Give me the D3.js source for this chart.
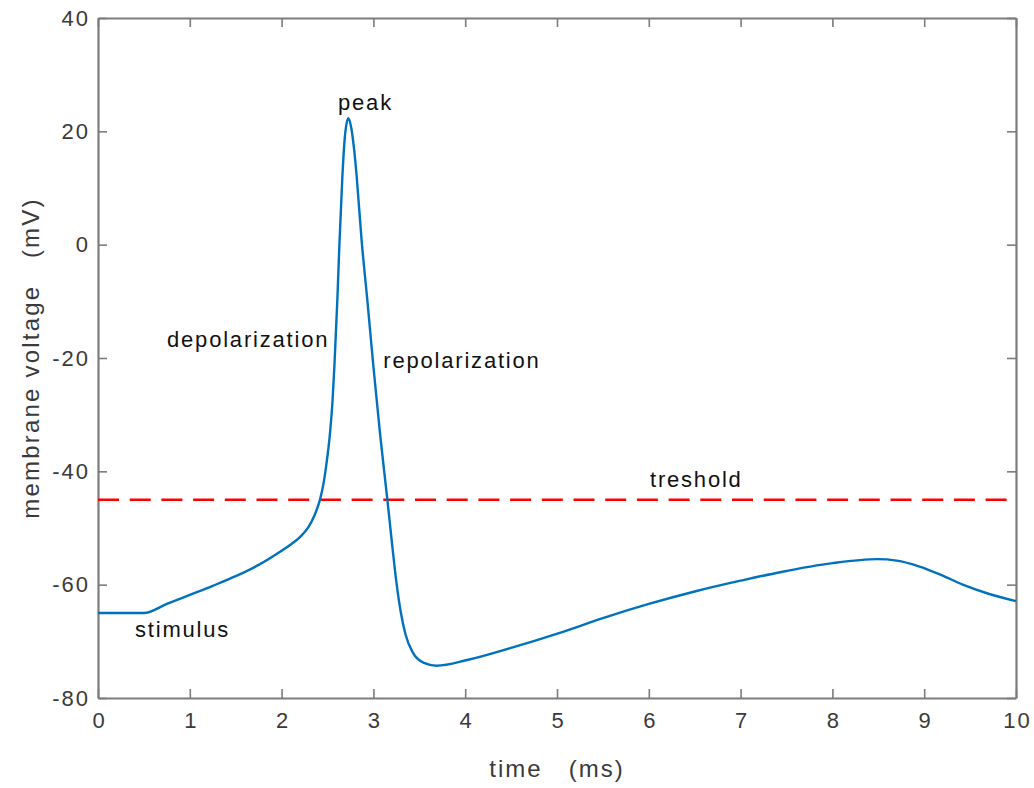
<!DOCTYPE html>
<html>
<head>
<meta charset="utf-8">
<script src="https://cdn.jsdelivr.net/npm/d3@7"></script>
<style>
  body { margin: 0; background: #fff; }
  text { font-family: "Liberation Sans", Arial, sans-serif; }
</style>
</head>
<body>
<div id="chart"></div>
<script>
// membrane potential trace (ms, mV)
const timeMs = [0, 0.5, 0.75, 1.0, 1.25, 1.5, 1.75, 2.0, 2.1, 2.2, 2.29, 2.36, 2.418, 2.455, 2.484, 2.527,
  2.555, 2.575, 2.59, 2.607, 2.63, 2.662, 2.69, 2.727, 2.76, 2.79, 2.818, 2.873, 2.934, 3.0, 3.072, 3.152,
  3.2, 3.25, 3.3, 3.35, 3.43, 3.55, 3.69, 4.02, 4.49, 5.03, 5.5, 6.0, 6.5, 7.0, 7.43, 8.0, 8.49, 8.7,
  8.95, 9.2, 9.42, 9.7, 10]
const voltage = [-65, -65, -63.4, -61.8, -60.2, -58.5, -56.5, -54.0, -52.9, -51.6, -49.9, -47.7, -45, -42.3, -39.2, -33.3,
  -27.5, -21.5, -16, -9.8, 0.2, 12, 19.2, 22.3, 20.5, 16.8, 12, 0.5, -9.8, -21.5, -33.3, -45,
  -52.3, -59.5, -65, -68.8, -72, -73.8, -74.3, -73.3, -71.2, -68.5, -65.9, -63.4, -61.2, -59.3, -57.8, -56.2, -55.5, -55.75,
  -56.8, -58.4, -60.0, -61.6, -62.9]

const threshold = -45

// annotations: label, time, voltage (baseline start)
const noteText = ['peak', 'depolarization', 'repolarization', 'treshold', 'stimulus']
const noteTime = [2.615, 0.752, 3.108, 6.013, 0.403]
const noteVolt = [23.8, -18.0, -21.8, -42.8, -69.3]

const xTicks = [0, 1, 2, 3, 4, 5, 6, 7, 8, 9, 10]
const yTicks = [-80, -60, -40, -20, 0, 20, 40]

const w = 1034, h = 788
const m = { left: 98, right: 1016, top: 18, bottom: 698 }

const x = d3.scaleLinear().domain([0, 10]).range([m.left, m.right])
const y = d3.scaleLinear().domain([-80, 40]).range([m.bottom, m.top])

const svg = d3.select('#chart').append('svg')
  .attr('width', w)
  .attr('height', h)

const axisColor = '#7c7c7c'
const labelColor = '#3a3a3a'
const plain = d => String(d)

const styleAxis = (g) => {
  g.select('.domain').attr('stroke', axisColor).attr('stroke-width', 2.2)
  g.selectAll('.tick line').attr('stroke', axisColor).attr('stroke-width', 1.6)
  g.selectAll('.tick text')
    .attr('fill', labelColor)
    .style('font-size', '22px')
    .style('letter-spacing', '2px')
}

svg.append('g')
  .attr('transform', `translate(0,${m.bottom})`)
  .call(d3.axisBottom(x).tickValues(xTicks).tickFormat(plain).tickSizeInner(-9).tickSizeOuter(0).tickPadding(14))
  .call(styleAxis)
  .call(g => g.selectAll('.tick text').attr('dx', '1px'))

svg.append('g')
  .attr('transform', `translate(${m.left},0)`)
  .call(d3.axisLeft(y).tickValues(yTicks).tickFormat(plain).tickSizeInner(-9).tickSizeOuter(0).tickPadding(8))
  .call(styleAxis)

svg.append('g')
  .attr('transform', `translate(0,${m.top})`)
  .call(d3.axisTop(x).tickValues(xTicks).tickSizeInner(-9).tickSizeOuter(0).tickFormat(''))
  .call(styleAxis)

svg.append('g')
  .attr('transform', `translate(${m.right},0)`)
  .call(d3.axisRight(y).tickValues(yTicks).tickSizeInner(-9).tickSizeOuter(0).tickFormat(''))
  .call(styleAxis)

// threshold line
svg.append('line')
  .attr('x1', x(0)).attr('x2', x(10))
  .attr('y1', y(threshold)).attr('y2', y(threshold))
  .attr('stroke', '#ff0000')
  .attr('stroke-width', 2.5)
  .attr('stroke-dasharray', '21,10.7')

// voltage trace
const trace = timeMs.map((t, i) => [t, voltage[i]])
svg.append('path')
  .datum(trace)
  .attr('fill', 'none')
  .attr('stroke', '#0072bd')
  .attr('stroke-width', 2.4)
  .attr('stroke-linejoin', 'round')
  .attr('d', d3.line().x(d => x(d[0])).y(d => y(d[1])).curve(d3.curveMonotoneX))

// annotations
svg.selectAll('.note')
  .data(noteText)
  .enter()
  .append('text')
  .attr('class', 'note')
  .attr('x', (d, i) => x(noteTime[i]))
  .attr('y', (d, i) => y(noteVolt[i]))
  .attr('fill', '#111')
  .style('font-size', '22px')
  .style('letter-spacing', '1.8px')
  .text(d => d)

// axis titles
svg.append('text')
  .attr('x', (m.left + m.right) / 2)
  .attr('y', 777)
  .attr('text-anchor', 'middle')
  .attr('fill', labelColor)
  .style('font-size', '24px')
  .style('letter-spacing', '2px')
  .style('white-space', 'pre')
  .text('time   (ms)')

svg.append('text')
  .attr('transform', `translate(39,${(m.top + m.bottom) / 2}) rotate(-90)`)
  .attr('text-anchor', 'middle')
  .attr('fill', labelColor)
  .style('font-size', '24px')
  .style('letter-spacing', '2.2px')
  .style('white-space', 'pre')
  .text('membrane voltage   (mV)')
</script>
</body>
</html>
